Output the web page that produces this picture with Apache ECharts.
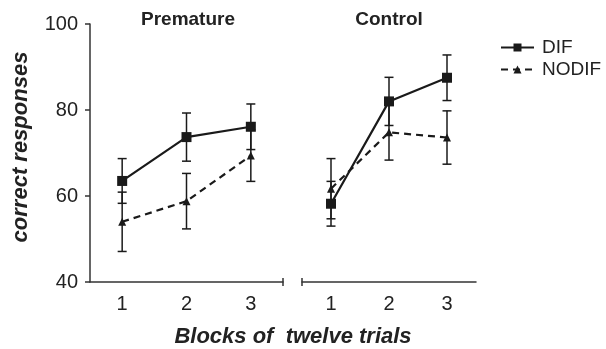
<!DOCTYPE html>
<html>
<head>
<meta charset="utf-8">
<script src="https://cdn.jsdelivr.net/npm/echarts@6/dist/echarts.min.js"></script>
<style>
html,body{margin:0;padding:0;background:#fff;}
#chart{width:606px;height:349px;}
</style>
</head>
<body>
<div id="chart"></div>
<script>
// ---- data ----
const categories = ['1', '2', '3'];
const panelTitles = ['Premature', 'Control'];
const seriesNames = ['DIF', 'NODIF'];
const xTitle = 'Blocks of  twelve trials';
const yTitle = 'correct responses';
const yTicks = { min: 40, max: 100, interval: 20 };

const premDif = [63.5, 73.7, 76.1];
const premDifErr = [5.2, 5.6, 5.3];
const premNodif = [54.0, 58.8, 69.4];
const premNodifErr = [6.9, 6.45, 6.0];

const ctrlDif = [58.2, 82.0, 87.5];
const ctrlDifErr = [5.2, 5.6, 5.3];
const ctrlNodif = [61.7, 74.8, 73.6];
const ctrlNodifErr = [7.0, 6.45, 6.2];

// ---- chart ----
const FONT = '"Liberation Sans", Arial, sans-serif';
const INK = '#1a1a1a';
const AXIS = '#333';
const TXT = '#222';

function errData(means, errs) {
  return means.map((m, i) => [i, m - errs[i], m + errs[i]]);
}

function errorSeries(means, errs, gi) {
  return {
    type: 'custom',
    xAxisIndex: gi, yAxisIndex: gi,
    data: errData(means, errs),
    encode: { x: 0, y: [1, 2] },
    z: 2,
    silent: true,
    renderItem: function (params, api) {
      const lo = api.coord([api.value(0), api.value(1)]);
      const hi = api.coord([api.value(0), api.value(2)]);
      const hw = 4.5;
      const st = { stroke: INK, lineWidth: 1.5 };
      return {
        type: 'group',
        children: [
          { type: 'line', shape: { x1: lo[0], y1: lo[1], x2: hi[0], y2: hi[1] }, style: st },
          { type: 'line', shape: { x1: lo[0] - hw, y1: lo[1], x2: lo[0] + hw, y2: lo[1] }, style: st },
          { type: 'line', shape: { x1: hi[0] - hw, y1: hi[1], x2: hi[0] + hw, y2: hi[1] }, style: st }
        ]
      };
    }
  };
}

function endTickSeries(gi, side) {
  return {
    type: 'custom',
    xAxisIndex: gi, yAxisIndex: gi,
    data: [[0, yTicks.min]],
    silent: true,
    z: 3,
    renderItem: function (params, api) {
      const cs = params.coordSys;
      const x = side === 'right' ? cs.x + cs.width : cs.x;
      const y = cs.y + cs.height;
      return { type: 'line', shape: { x1: x, y1: y - 4, x2: x, y2: y + 4 }, style: { stroke: AXIS, lineWidth: 1.5 } };
    }
  };
}

function difSeries(vals, gi) {
  return {
    name: seriesNames[0], type: 'line', xAxisIndex: gi, yAxisIndex: gi,
    data: vals, symbol: 'rect', symbolSize: 10,
    lineStyle: { color: INK, width: 2.2 },
    itemStyle: { color: INK },
    z: 5
  };
}
function nodifSeries(vals, gi) {
  return {
    name: seriesNames[1], type: 'line', xAxisIndex: gi, yAxisIndex: gi,
    data: vals, symbol: 'triangle', symbolSize: 8,
    lineStyle: { color: INK, width: 2.2, type: [7, 5] },
    itemStyle: { color: INK },
    z: 4
  };
}

function xAxis(gi) {
  return {
    type: 'category', gridIndex: gi, data: categories, boundaryGap: true,
    axisLine: { lineStyle: { color: AXIS, width: 1.5 } },
    axisTick: { alignWithLabel: true, length: 5, lineStyle: { color: AXIS, width: 1.5 } },
    axisLabel: { color: TXT, fontSize: 20, fontFamily: FONT, margin: 12 }
  };
}

const chart = echarts.init(document.getElementById('chart'), null, { renderer: 'canvas' });
chart.setOption({
  animation: false,
  backgroundColor: '#fff',
  grid: [
    { left: 90, right: 323, top: 24, bottom: 67, containLabel: false, outerBoundsMode: 'none' },
    { left: 302, right: 130, top: 24, bottom: 67, containLabel: false, outerBoundsMode: 'none' }
  ],
  xAxis: [xAxis(0), xAxis(1)],
  yAxis: [
    {
      type: 'value', gridIndex: 0, min: yTicks.min, max: yTicks.max, interval: yTicks.interval,
      splitLine: { show: false },
      axisLine: { show: true, lineStyle: { color: AXIS, width: 1.5 } },
      axisTick: { show: true, length: 5, lineStyle: { color: AXIS, width: 1.5 } },
      axisLabel: { color: TXT, fontSize: 20, fontFamily: FONT, margin: 12 }
    },
    {
      type: 'value', gridIndex: 1, min: yTicks.min, max: yTicks.max, interval: yTicks.interval,
      show: false, splitLine: { show: false }
    }
  ],
  legend: {
    data: seriesNames,
    orient: 'vertical', left: 500, top: 38, padding: 0,
    itemWidth: 33, itemHeight: 10, itemGap: 3,
    textStyle: { fontSize: 19, color: TXT, fontFamily: FONT, padding: [0, 0, 0, 3] },
    itemStyle: { color: INK }
  },
  graphic: [
    { type: 'text', x: 188, y: 20, style: { text: panelTitles[0], font: 'bold 19px ' + FONT, fill: TXT, align: 'center', verticalAlign: 'middle' } },
    { type: 'text', x: 389, y: 20, style: { text: panelTitles[1], font: 'bold 19px ' + FONT, fill: TXT, align: 'center', verticalAlign: 'middle' } },
    { type: 'text', x: 293, y: 337, style: { text: xTitle, font: 'italic bold 22px ' + FONT, fill: TXT, align: 'center', verticalAlign: 'middle' } },
    { type: 'text', x: 21, y: 147, rotation: Math.PI / 2, style: { text: yTitle, font: 'italic bold 22px ' + FONT, fill: TXT, align: 'center', verticalAlign: 'middle' } }
  ],
  series: [
    errorSeries(premDif, premDifErr, 0),
    errorSeries(premNodif, premNodifErr, 0),
    errorSeries(ctrlDif, ctrlDifErr, 1),
    errorSeries(ctrlNodif, ctrlNodifErr, 1),
    difSeries(premDif, 0), nodifSeries(premNodif, 0),
    difSeries(ctrlDif, 1), nodifSeries(ctrlNodif, 1),
    endTickSeries(0, 'right'), endTickSeries(1, 'left')
  ]
});
</script>
</body>
</html>
